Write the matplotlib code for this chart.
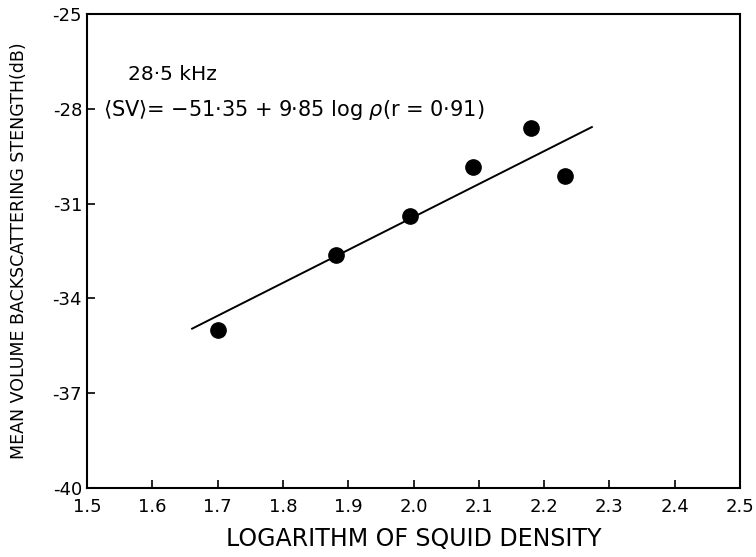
import matplotlib
matplotlib.use("Agg")
import matplotlib.pyplot as plt

plt.rcParams["axes.unicode_minus"] = False
plt.rcParams["font.family"] = "DejaVu Sans"

# measured points
log_density = [1.70, 1.882, 1.994, 2.091, 2.180, 2.232]
mean_sv = [-35.0, -32.63, -31.40, -29.84, -28.61, -30.12]

# regression line as drawn (end points)
line_x = [1.661, 2.273]
line_y = [-34.96, -28.58]

x_ticks = [1.5, 1.6, 1.7, 1.8, 1.9, 2.0, 2.1, 2.2, 2.3, 2.4, 2.5]
x_labels = ["1.5", "1.6", "1.7", "1.8", "1.9", "2.0", "2.1", "2.2", "2.3", "2.4", "2.5"]
y_ticks = [-40, -37, -34, -31, -28, -25]

fig = plt.figure(figsize=(7.56, 5.57), dpi=100)
ax = fig.add_axes([0.115, 0.124, 0.864, 0.851])

ax.plot(line_x, line_y, color="black", linewidth=1.4)
ax.plot(log_density, mean_sv, "o", color="black", markersize=11)

ax.set_xlim(1.5, 2.5)
ax.set_ylim(-40, -25)
ax.set_xticks(x_ticks)
ax.set_xticklabels(x_labels)
ax.set_yticks(y_ticks)
ax.tick_params(direction="in", length=6, width=1.2, labelsize=13)
ax.tick_params(axis="x", pad=7)
for s in ax.spines.values():
    s.set_linewidth(1.5)

ax.set_xlabel("LOGARITHM OF SQUID DENSITY", fontsize=17, labelpad=8)
ax.set_ylabel("MEAN VOLUME BACKSCATTERING STENGTH(dB)", fontsize=12.5, labelpad=18)

ax.text(0.063, 0.86, "28·5 kHz", transform=ax.transAxes, fontsize=14.5)
ax.text(0.025, 0.785, r"$\langle$SV$\rangle$= −51·35 + 9·85 log $\rho$(r = 0·91)",
        transform=ax.transAxes, fontsize=15)

fig.savefig("out.png", dpi=100)
